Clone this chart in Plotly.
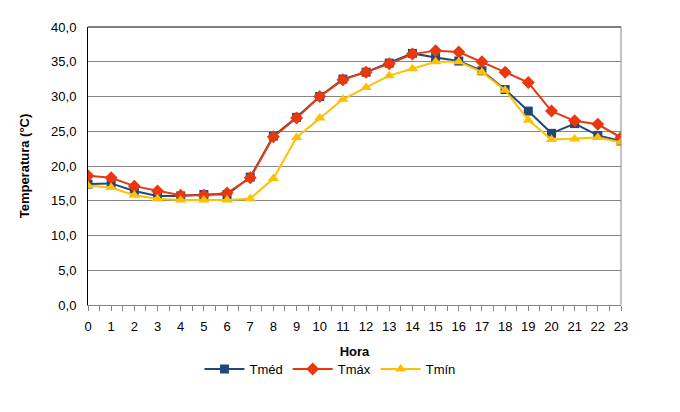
import plotly.graph_objects as go

hora = list(range(24))
tmed = [17.4, 17.5, 16.4, 15.7, 15.7, 15.9, 15.9, 18.4, 24.3, 27.0, 30.0, 32.5,
        33.5, 34.8, 36.2, 35.6, 35.1, 33.7, 31.0, 27.9, 24.7, 26.1, 24.4, 23.6]
tmax = [18.6, 18.3, 17.1, 16.4, 15.8, 15.8, 16.1, 18.3, 24.2, 26.9, 30.0, 32.4,
        33.5, 34.7, 36.1, 36.6, 36.4, 35.0, 33.5, 32.0, 27.9, 26.5, 26.0, 24.1]
tmin = [17.2, 16.9, 15.8, 15.3, 15.1, 15.1, 15.1, 15.3, 18.2, 24.1, 26.9, 29.6,
        31.3, 33.0, 34.0, 35.0, 35.0, 33.5, 30.9, 26.6, 23.8, 23.9, 24.1, 23.4]
yticks = [0, 5, 10, 15, 20, 25, 30, 35, 40]

font = "Liberation Sans Narrow, Liberation Sans, Arial"

fig = go.Figure()
fig.add_trace(go.Scatter(x=hora, y=tmed, name="Tméd", mode="lines+markers",
                         line=dict(color="#1f497d", width=2),
                         marker=dict(symbol="square", size=9, color="#1f497d")))
fig.add_trace(go.Scatter(x=hora, y=tmax, name="Tmáx", mode="lines+markers",
                         line=dict(color="#e8380d", width=2),
                         marker=dict(symbol="diamond", size=10, color="#e8380d")))
fig.add_trace(go.Scatter(x=hora, y=tmin, name="Tmín", mode="lines+markers",
                         line=dict(color="#ffc000", width=2),
                         marker=dict(symbol="triangle-up", size=10, color="#ffc000")))

fig.update_layout(
    width=680, height=412,
    margin=dict(l=80, r=67, t=12, b=115),
    paper_bgcolor="white", plot_bgcolor="white",
    font=dict(family=font, size=12, color="black"),
    showlegend=True,
    legend=dict(orientation="h", x=0.454, xanchor="center", y=-0.23, yanchor="middle",
                font=dict(size=13), itemwidth=40, tracegroupgap=0),
    xaxis=dict(
        range=[0, 23], tickmode="array", tickvals=hora, ticktext=[str(h) for h in hora],
        showgrid=False, zeroline=False, showline=True, linecolor="#868686", linewidth=1,
        ticks="outside", ticklen=5, tickcolor="#868686", ticklabelstandoff=4,
        minor=dict(dtick=0.5, ticks="outside", ticklen=5, tickcolor="#868686"),
        tickfont=dict(size=13),
        title=dict(text="<b>Hora</b>", font=dict(size=13), standoff=14),
    ),
    yaxis=dict(
        range=[0, 40], tickmode="array", tickvals=yticks,
        ticktext=[f"{v:.1f}".replace(".", ",") for v in yticks],
        showgrid=True, gridcolor="#868686", gridwidth=1, zeroline=False,
        showline=True, linecolor="black", linewidth=1, ticks="", ticklabelstandoff=8,
        tickfont=dict(size=13),
        title=dict(text="<b>Temperatura (°C)</b>", font=dict(size=13), standoff=18),
    ),
    shapes=[
        dict(type="line", xref="paper", yref="paper", x0=0, x1=1, y0=1, y1=1,
             line=dict(color="black", width=1)),
        dict(type="line", xref="paper", yref="paper", x0=1, x1=1, y0=0, y1=1,
             line=dict(color="#868686", width=1)),
    ],
)

fig.write_html("out.html")
